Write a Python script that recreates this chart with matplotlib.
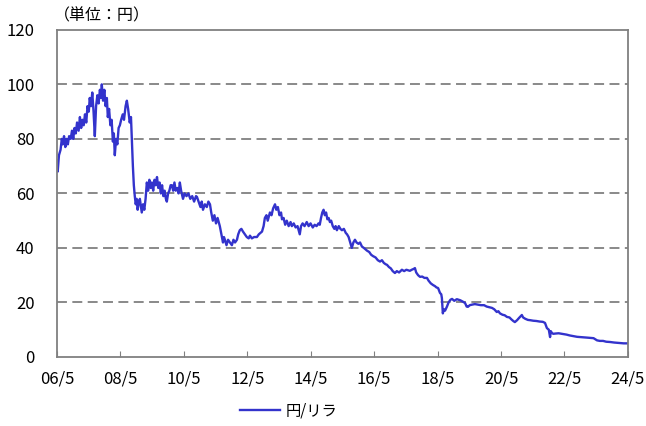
# -*- coding: utf-8 -*-
"""円/リラ 為替レートの推移
"""
import matplotlib
matplotlib.use('Agg')
import matplotlib.pyplot as plt

plt.rcParams['font.family'] = ['Noto Sans CJK JP', 'DejaVu Sans']

# decimal year, yen per lira
years = [
    2006.33, 2006.36, 2006.40, 2006.45, 2006.49, 2006.52, 2006.56, 2006.60, 2006.64, 2006.68,
    2006.72, 2006.77, 2006.81, 2006.85, 2006.89, 2006.93, 2006.97, 2007.02, 2007.06, 2007.10,
    2007.14, 2007.18, 2007.22, 2007.26, 2007.30, 2007.34, 2007.37, 2007.41, 2007.45, 2007.49,
    2007.53, 2007.57, 2007.61, 2007.65, 2007.69, 2007.73, 2007.75, 2007.79, 2007.83, 2007.87,
    2007.91, 2007.94, 2007.98, 2008.02, 2008.06, 2008.10, 2008.13, 2008.16, 2008.20, 2008.24,
    2008.28, 2008.32, 2008.36, 2008.41, 2008.45, 2008.50, 2008.54, 2008.58, 2008.63, 2008.67,
    2008.70, 2008.73, 2008.76, 2008.79, 2008.82, 2008.85, 2008.88, 2008.92, 2008.95, 2009.01,
    2009.05, 2009.09, 2009.13, 2009.17, 2009.21, 2009.25, 2009.29, 2009.33, 2009.37, 2009.41,
    2009.45, 2009.49, 2009.53, 2009.57, 2009.61, 2009.65, 2009.69, 2009.73, 2009.77, 2009.80,
    2009.84, 2009.88, 2009.92, 2009.96, 2010.00, 2010.04, 2010.08, 2010.13, 2010.17, 2010.21,
    2010.25, 2010.31, 2010.36, 2010.42, 2010.48, 2010.54, 2010.60, 2010.66, 2010.72, 2010.75,
    2010.80, 2010.86, 2010.90, 2010.94, 2011.00, 2011.06, 2011.11, 2011.16, 2011.20, 2011.25,
    2011.30, 2011.35, 2011.40, 2011.47, 2011.52, 2011.57, 2011.60, 2011.63, 2011.68, 2011.73,
    2011.79, 2011.85, 2011.90, 2011.95, 2012.01, 2012.05, 2012.10, 2012.15, 2012.20, 2012.26,
    2012.32, 2012.38, 2012.42, 2012.48, 2012.55, 2012.64, 2012.70, 2012.80, 2012.85, 2012.89,
    2012.94, 2012.98, 2013.05, 2013.10, 2013.15, 2013.21, 2013.25, 2013.30, 2013.35, 2013.40,
    2013.43, 2013.48, 2013.53, 2013.58, 2013.64, 2013.70, 2013.74, 2013.80, 2013.86, 2013.92,
    2013.99, 2014.03, 2014.08, 2014.14, 2014.21, 2014.27, 2014.33, 2014.40, 2014.46, 2014.52,
    2014.58, 2014.62, 2014.66, 2014.70, 2014.74, 2014.78, 2014.82, 2014.86, 2014.90, 2014.94,
    2014.98, 2015.03, 2015.08, 2015.12, 2015.16, 2015.22, 2015.27, 2015.32, 2015.38, 2015.44,
    2015.48, 2015.53, 2015.58, 2015.63, 2015.68, 2015.73, 2015.78, 2015.84, 2015.89, 2015.95,
    2016.01, 2016.06, 2016.11, 2016.18, 2016.24, 2016.30, 2016.38, 2016.45, 2016.52, 2016.58,
    2016.64, 2016.70, 2016.74, 2016.80, 2016.86, 2016.92, 2016.99, 2017.05, 2017.12, 2017.21,
    2017.28, 2017.35, 2017.40, 2017.46, 2017.52, 2017.58, 2017.62, 2017.66, 2017.72, 2017.78,
    2017.85, 2017.92, 2018.00, 2018.05, 2018.12, 2018.19, 2018.25, 2018.30, 2018.35, 2018.41,
    2018.45, 2018.47, 2018.49, 2018.50, 2018.53, 2018.57, 2018.63, 2018.68, 2018.74, 2018.79,
    2018.86, 2018.94, 2019.00, 2019.05, 2019.13, 2019.20, 2019.25, 2019.29, 2019.35, 2019.42,
    2019.51, 2019.60, 2019.70, 2019.80, 2019.88, 2019.95, 2020.05, 2020.12, 2020.20, 2020.25,
    2020.30, 2020.38, 2020.45, 2020.52, 2020.60, 2020.66, 2020.72, 2020.77, 2020.84, 2020.90,
    2020.96, 2020.99, 2021.03, 2021.10, 2021.18, 2021.25, 2021.35, 2021.45, 2021.55, 2021.65,
    2021.72, 2021.78, 2021.84, 2021.88, 2021.90, 2021.94, 2021.98, 2022.05, 2022.15, 2022.29,
    2022.40, 2022.50, 2022.60, 2022.73, 2022.85, 2022.95, 2023.05, 2023.14, 2023.25, 2023.36,
    2023.45, 2023.55, 2023.65, 2023.77, 2023.90, 2024.00, 2024.08, 2024.20, 2024.30,
]
yen_lira = [
    72, 68, 74, 76, 80, 78, 81, 77, 80, 78,
    81, 80, 83, 80, 84, 82, 86, 83, 88, 84,
    87, 85, 89, 86, 92, 90, 95, 92, 97, 90,
    81, 92, 96, 93, 98, 95, 100, 94, 98, 92,
    95, 88, 91, 85, 87, 79, 82, 74, 80, 78,
    84, 85, 87, 89, 87, 92, 94, 91, 86, 88,
    79, 70, 63, 59, 56, 58, 54, 57, 58, 53,
    56, 54, 58, 64, 61, 65, 62, 64, 61, 65,
    63, 66, 62, 64, 60, 63, 59, 61, 58, 57,
    60, 61, 63, 63, 61, 64, 61, 62, 60, 64,
    61, 58, 60, 59, 60, 58, 59, 57, 59, 58.7,
    57, 55, 57, 54, 56, 55, 57, 56, 53, 50,
    52, 49, 51, 48, 45, 42, 44, 43, 41, 43,
    42, 41, 43, 42, 43, 45, 46.5, 47, 46, 45,
    44, 43.5, 44.5, 43.5, 44, 44, 45, 46, 48, 51,
    52, 50, 53, 52, 54.5, 56, 54, 55, 52, 53,
    50.5, 51, 48.5, 50, 48, 49.5, 48, 49, 47.5, 48,
    45, 48, 49, 48, 49.5, 48, 49, 47.5, 48.5, 48,
    49, 48.5, 51, 53, 54, 52, 53, 50.5, 51, 49.5,
    50, 48, 47, 48, 46.5, 48, 47, 46.5, 47, 45.5,
    45, 44, 42, 40, 42, 43, 42, 41.5, 42, 40.5,
    40, 39.5, 39, 38.5, 37.5, 37, 36.5, 35.5, 35, 35.5,
    34.5, 34, 33.8, 33, 32.5, 31.5, 30.8, 31.5, 31, 32,
    31.5, 32, 31.8, 31.6, 32, 32.3, 32.6, 31, 30, 29.4,
    29.5, 29, 29, 28, 27, 26.4, 26, 25.5, 25.3, 23.5,
    23, 21.6, 18, 16, 17.5, 17, 18.5, 20, 21, 21.3,
    20.6, 21.2, 21, 20.8, 20.3, 19.8, 18.5, 18.4, 19, 19.2,
    19.4, 19.2, 19, 19, 18.5, 18.3, 18, 17.5, 16.5, 16.8,
    16, 15.5, 15.3, 14.7, 14.5, 13.8, 13.2, 12.8, 13.5, 14.3,
    15, 15.4, 14.5, 14, 13.6, 13.5, 13.3, 13.2, 13.0, 12.9,
    12.5, 10.6, 10, 7.3, 9.5, 8.8, 8.5, 8.6, 8.7, 8.4,
    8.2, 7.9, 7.7, 7.4, 7.3, 7.2, 7.1, 7.0, 6.9, 6.1,
    5.9, 5.9, 5.6, 5.5, 5.3, 5.2, 5.1, 5.0, 5.0,
]

tick_years = [2006 + 4 / 12 + 2 * i for i in range(10)]
tick_labels = ['06/5', '08/5', '10/5', '12/5', '14/5', '16/5', '18/5', '20/5', '22/5', '24/5']
y_ticks = [0, 20, 40, 60, 80, 100, 120]

fig = plt.figure(figsize=(6.46, 4.26), dpi=100)
ax = fig.add_axes([0.088, 0.162, 0.884, 0.768])

ax.plot(years, yen_lira, color='#3333cc', lw=1.7, label='円/リラ')

ax.set_xlim(tick_years[0], tick_years[-1])
ax.set_ylim(0, 120)
ax.set_xticks(tick_years)
ax.set_xticklabels(tick_labels)
ax.set_yticks(y_ticks)

for v in y_ticks[1:-1]:
    ax.axhline(v, color='#808080', lw=1.3, ls=(0, (5.5, 3)), zorder=0)

for s in ax.spines.values():
    s.set_color('#808080')
    s.set_linewidth(1.3)

ax.tick_params(axis='x', direction='in', length=4, color='#808080', pad=10, labelsize=12)
ax.tick_params(axis='y', length=0, pad=16, labelsize=12)

fig.text(0.083, 0.962, '（単位：円）', ha='left', va='center', fontsize=11.5)

fig.legend(loc='center', bbox_to_anchor=(0.447, 0.035), frameon=False,
           fontsize=11, handlelength=2.6, handletextpad=0.4)

fig.savefig('out.png', dpi=100)
